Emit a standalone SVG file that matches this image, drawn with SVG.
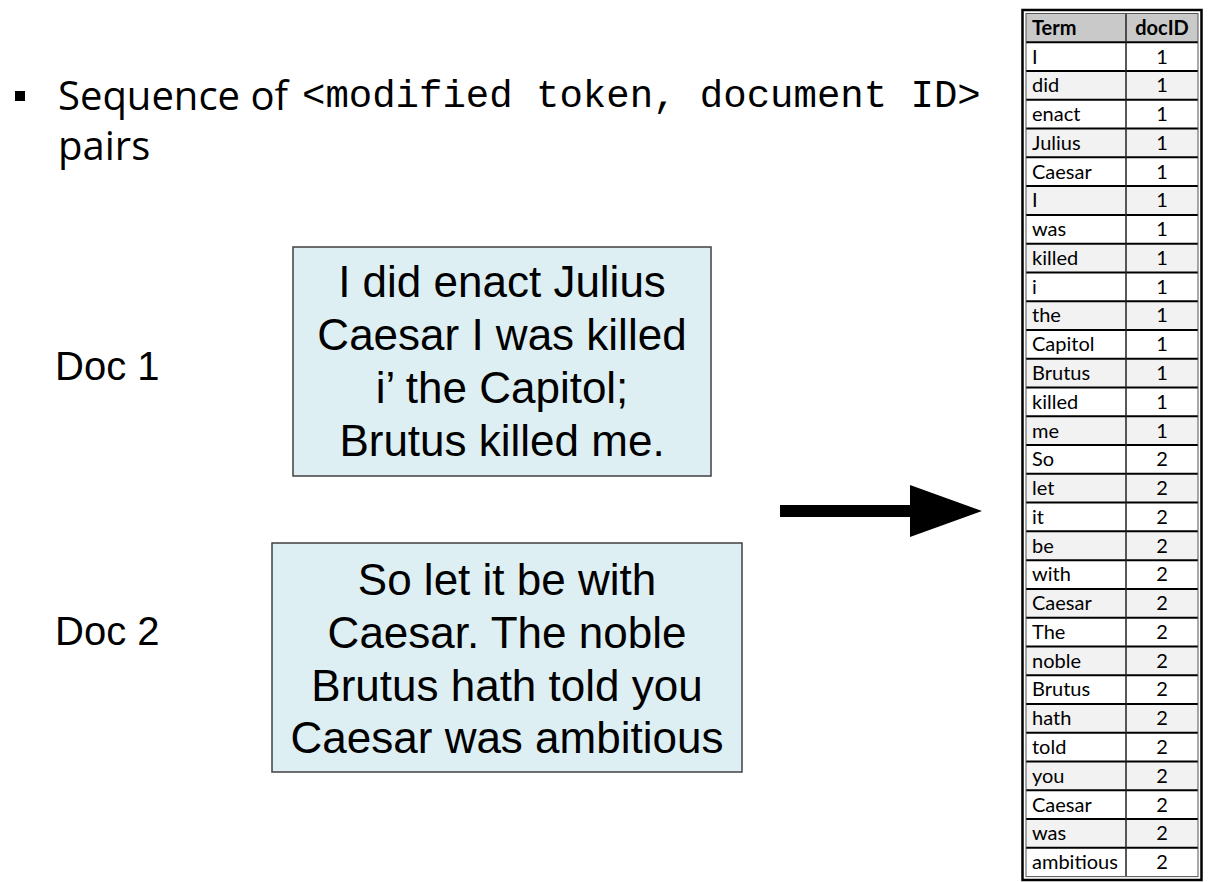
<svg xmlns="http://www.w3.org/2000/svg" width="1217" height="882" viewBox="0 0 1217 882">
<style>
.title{font-family:"Open Sans","Noto Sans",sans-serif;font-size:40px;fill:#000}
.mono{font-family:"Liberation Mono",monospace;font-size:39px;fill:#000}
.doclbl{font-family:"Liberation Sans",Arial,sans-serif;font-size:40px;fill:#000}
.box{fill:#ddeff2;stroke:#404040;stroke-width:1.5}
.boxtxt{font-family:"Liberation Sans",Arial,sans-serif;font-size:44px;fill:#000;text-anchor:middle}
.cell{font-family:"Lato","Open Sans",sans-serif;font-size:20px;fill:#000}
.num{text-anchor:middle}
.hdr{font-weight:bold}
.alt{fill:#f2f2f2}
.rowline{stroke:#000;stroke-width:2}
</style>
<rect width="1217" height="882" fill="#fff"/>
<g id="bullet">
<rect x="15" y="91" width="10" height="10" fill="#000"/>
<text class="title" x="58" y="110">Sequence of</text>
<text class="mono" x="302" y="107">&lt;modified token, document ID&gt;</text>
<text class="title" x="58" y="160">pairs</text>
</g>
<g id="doc1-label"><text class="doclbl" x="55" y="380">Doc 1</text></g>
<g id="doc2-label"><text class="doclbl" x="55" y="645">Doc 2</text></g>
<g id="doc1">
<rect class="box" x="293" y="247" width="418" height="229"/>
<text class="boxtxt" x="502" y="297">I did enact Julius</text>
<text class="boxtxt" x="502" y="350">Caesar I was killed</text>
<text class="boxtxt" x="502" y="403">i’ the Capitol;</text>
<text class="boxtxt" x="502" y="456">Brutus killed me.</text>
</g>
<g id="doc2">
<rect class="box" x="272" y="543" width="470" height="229"/>
<text class="boxtxt" x="507" y="595">So let it be with</text>
<text class="boxtxt" x="507" y="648">Caesar. The noble</text>
<text class="boxtxt" x="507" y="701">Brutus hath told you</text>
<text class="boxtxt" x="507" y="753">Caesar was ambitious</text>
</g>
<g id="connectors">
<path d="M780,505 H910 V485 L982,511 L910,537 V517 H780 Z" fill="#000"/>
</g>
<g id="table">
<rect x="1026" y="13.5" width="172" height="863.1" fill="#fff"/>
<rect x="1026" y="13.5" width="172" height="28.77" fill="#c9c9c9"/>
<rect class="alt" x="1026" y="71.04" width="172" height="28.77"/>
<rect class="alt" x="1026" y="128.58" width="172" height="28.77"/>
<rect class="alt" x="1026" y="186.12" width="172" height="28.77"/>
<rect class="alt" x="1026" y="243.66" width="172" height="28.77"/>
<rect class="alt" x="1026" y="301.2" width="172" height="28.77"/>
<rect class="alt" x="1026" y="358.74" width="172" height="28.77"/>
<rect class="alt" x="1026" y="416.28" width="172" height="28.77"/>
<rect class="alt" x="1026" y="473.82" width="172" height="28.77"/>
<rect class="alt" x="1026" y="531.36" width="172" height="28.77"/>
<rect class="alt" x="1026" y="588.9" width="172" height="28.77"/>
<rect class="alt" x="1026" y="646.44" width="172" height="28.77"/>
<rect class="alt" x="1026" y="703.98" width="172" height="28.77"/>
<rect class="alt" x="1026" y="761.52" width="172" height="28.77"/>
<rect class="alt" x="1026" y="819.06" width="172" height="28.77"/>
<g class="rowline">
<line x1="1026" y1="42.27" x2="1198" y2="42.27"/>
<line x1="1026" y1="71.04" x2="1198" y2="71.04"/>
<line x1="1026" y1="99.81" x2="1198" y2="99.81"/>
<line x1="1026" y1="128.58" x2="1198" y2="128.58"/>
<line x1="1026" y1="157.35" x2="1198" y2="157.35"/>
<line x1="1026" y1="186.12" x2="1198" y2="186.12"/>
<line x1="1026" y1="214.89" x2="1198" y2="214.89"/>
<line x1="1026" y1="243.66" x2="1198" y2="243.66"/>
<line x1="1026" y1="272.43" x2="1198" y2="272.43"/>
<line x1="1026" y1="301.2" x2="1198" y2="301.2"/>
<line x1="1026" y1="329.97" x2="1198" y2="329.97"/>
<line x1="1026" y1="358.74" x2="1198" y2="358.74"/>
<line x1="1026" y1="387.51" x2="1198" y2="387.51"/>
<line x1="1026" y1="416.28" x2="1198" y2="416.28"/>
<line x1="1026" y1="445.05" x2="1198" y2="445.05"/>
<line x1="1026" y1="473.82" x2="1198" y2="473.82"/>
<line x1="1026" y1="502.59" x2="1198" y2="502.59"/>
<line x1="1026" y1="531.36" x2="1198" y2="531.36"/>
<line x1="1026" y1="560.13" x2="1198" y2="560.13"/>
<line x1="1026" y1="588.9" x2="1198" y2="588.9"/>
<line x1="1026" y1="617.67" x2="1198" y2="617.67"/>
<line x1="1026" y1="646.44" x2="1198" y2="646.44"/>
<line x1="1026" y1="675.21" x2="1198" y2="675.21"/>
<line x1="1026" y1="703.98" x2="1198" y2="703.98"/>
<line x1="1026" y1="732.75" x2="1198" y2="732.75"/>
<line x1="1026" y1="761.52" x2="1198" y2="761.52"/>
<line x1="1026" y1="790.29" x2="1198" y2="790.29"/>
<line x1="1026" y1="819.06" x2="1198" y2="819.06"/>
<line x1="1026" y1="847.83" x2="1198" y2="847.83"/>
</g>
<line x1="1126" y1="13.5" x2="1126" y2="876.6" stroke="#222" stroke-width="1.5"/>
<rect x="1026" y="13.5" width="172" height="863.1" fill="none" stroke="#555" stroke-width="1"/>
<rect x="1022.5" y="10" width="179" height="870" fill="none" stroke="#000" stroke-width="2.5"/>
<g class="cell">
<text class="hdr" x="1032" y="35">Term</text><text class="hdr num" x="1162" y="35">docID</text>
<text x="1032" y="63.5">I</text><text class="num" x="1162" y="63.5">1</text>
<text x="1032" y="92.3">did</text><text class="num" x="1162" y="92.3">1</text>
<text x="1032" y="121">enact</text><text class="num" x="1162" y="121">1</text>
<text x="1032" y="149.8">Julius</text><text class="num" x="1162" y="149.8">1</text>
<text x="1032" y="178.6">Caesar</text><text class="num" x="1162" y="178.6">1</text>
<text x="1032" y="207.3">I</text><text class="num" x="1162" y="207.3">1</text>
<text x="1032" y="236.1">was</text><text class="num" x="1162" y="236.1">1</text>
<text x="1032" y="264.9">killed</text><text class="num" x="1162" y="264.9">1</text>
<text x="1032" y="293.6">i</text><text class="num" x="1162" y="293.6">1</text>
<text x="1032" y="322.4">the</text><text class="num" x="1162" y="322.4">1</text>
<text x="1032" y="351.2">Capitol</text><text class="num" x="1162" y="351.2">1</text>
<text x="1032" y="379.9">Brutus</text><text class="num" x="1162" y="379.9">1</text>
<text x="1032" y="408.7">killed</text><text class="num" x="1162" y="408.7">1</text>
<text x="1032" y="437.5">me</text><text class="num" x="1162" y="437.5">1</text>
<text x="1032" y="466.2">So</text><text class="num" x="1162" y="466.2">2</text>
<text x="1032" y="495">let</text><text class="num" x="1162" y="495">2</text>
<text x="1032" y="523.8">it</text><text class="num" x="1162" y="523.8">2</text>
<text x="1032" y="552.6">be</text><text class="num" x="1162" y="552.6">2</text>
<text x="1032" y="581.3">with</text><text class="num" x="1162" y="581.3">2</text>
<text x="1032" y="610.1">Caesar</text><text class="num" x="1162" y="610.1">2</text>
<text x="1032" y="638.9">The</text><text class="num" x="1162" y="638.9">2</text>
<text x="1032" y="667.6">noble</text><text class="num" x="1162" y="667.6">2</text>
<text x="1032" y="696.4">Brutus</text><text class="num" x="1162" y="696.4">2</text>
<text x="1032" y="725.2">hath</text><text class="num" x="1162" y="725.2">2</text>
<text x="1032" y="753.9">told</text><text class="num" x="1162" y="753.9">2</text>
<text x="1032" y="782.7">you</text><text class="num" x="1162" y="782.7">2</text>
<text x="1032" y="811.5">Caesar</text><text class="num" x="1162" y="811.5">2</text>
<text x="1032" y="840.2">was</text><text class="num" x="1162" y="840.2">2</text>
<text x="1032" y="869">ambitious</text><text class="num" x="1162" y="869">2</text>
</g>
</g>
</svg>
